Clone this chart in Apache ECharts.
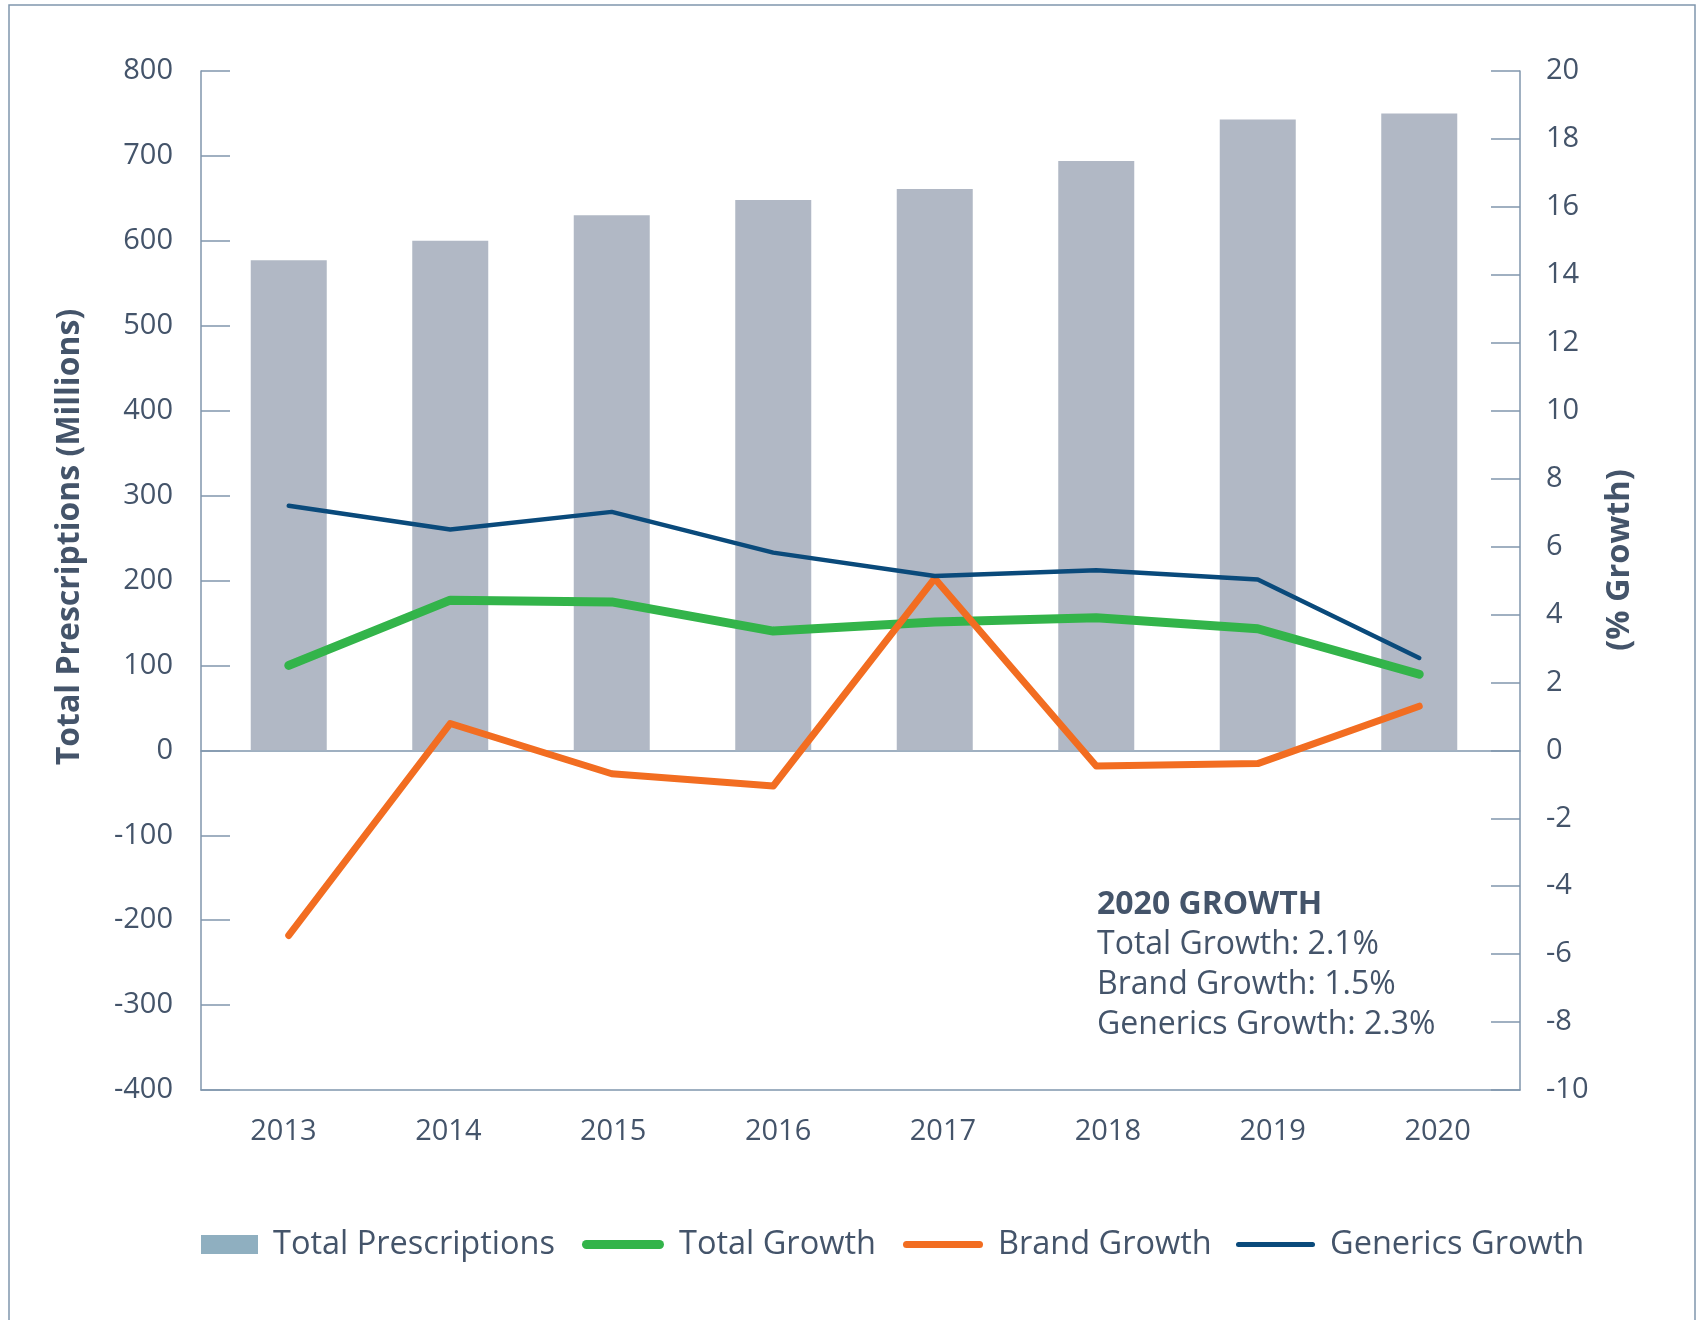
<!DOCTYPE html>
<html>
<head>
<meta charset="utf-8">
<script src="https://cdn.jsdelivr.net/npm/echarts@6/dist/echarts.min.js"></script>
<style>
  html, body { margin: 0; padding: 0; background: #fff; }
  #chart { width: 1701px; height: 1320px; }
</style>
</head>
<body>
<div id="chart"></div>
<script>
const years = ['2013', '2014', '2015', '2016', '2017', '2018', '2019', '2020'];
const totalRx = [577, 600, 630, 648, 661, 694, 743, 750];
const totalGrowth = [2.5, 4.42, 4.37, 3.51, 3.78, 3.9, 3.58, 2.24];
const brandGrowth = [-5.45, 0.79, -0.69, -1.05, 5.06, -0.46, -0.39, 1.3];
const genericsGrowth = [7.2, 6.5, 7.02, 5.82, 5.13, 5.3, 5.03, 2.72];
const noteLines = ['2020 GROWTH', 'Total Growth: 2.1%', 'Brand Growth: 1.5%', 'Generics Growth: 2.3%'];

const ink = '#44546a';
const axisCol = '#8096ad';
const font = 'Open Sans';

// capsule shaped legend icon
function capsule(w, h) {
  const r = h / 2;
  return 'path://M' + r + ',0H' + (w - r) + 'A' + r + ',' + r + ' 0 0 1 ' + (w - r) + ',' + h +
    'H' + r + 'A' + r + ',' + r + ' 0 0 1 ' + r + ',0Z';
}

function legendAt(left, name, w, h, icon, extra) {
  return {
    left: left, top: 1228, padding: 0, itemWidth: w, itemHeight: h,
    selectedMode: false,
    textStyle: { fontSize: 32.5, color: ink, fontFamily: font, padding: [0, 0, 0, 10] },
    data: [Object.assign({ name: name, icon: icon }, extra || {})]
  };
}

const hiddenX = function (grid) {
  return { gridIndex: grid, type: 'value', min: 0, max: 1, show: false };
};

// short tick marks drawn as split lines in thin grids next to each axis
const tickAxis = function (grid, min, max, step) {
  return { gridIndex: grid, type: 'value', min: min, max: max, interval: step,
    axisLine: { show: false }, axisTick: { show: false }, axisLabel: { show: false },
    splitLine: { show: true, lineStyle: { color: axisCol, width: 1.5 } } };
};

const chart = echarts.init(document.getElementById('chart'));

chart.setOption({
  animation: false,
  backgroundColor: '#fff',
  grid: [
    { left: 201, right: 181, top: 71, bottom: 230 },
    { left: 208, right: 201, top: 71, bottom: 230 },
    { left: 201, width: 29, top: 71, bottom: 230 },
    { left: 1491, width: 29, top: 71, bottom: 230 }
  ],
  xAxis: [
    { gridIndex: 0, type: 'category', data: years, position: 'bottom',
      axisLine: { onZero: false, lineStyle: { color: axisCol, width: 1.5 } },
      axisTick: { show: false },
      axisLabel: { fontSize: 29, color: ink, fontFamily: font, margin: 27 } },
    { gridIndex: 0, type: 'category', data: years,
      axisLine: { onZero: true, lineStyle: { color: axisCol, width: 1.5 } },
      axisTick: { show: false }, axisLabel: { show: false } },
    { gridIndex: 1, type: 'category', data: years, show: false },
    hiddenX(2),
    hiddenX(3)
  ],
  yAxis: [
    { gridIndex: 0, type: 'value', min: -400, max: 800, interval: 100,
      axisLine: { show: true, lineStyle: { color: axisCol, width: 1.5 } },
      axisTick: { show: false },
      axisLabel: { fontSize: 29, color: ink, fontFamily: font, margin: 28 },
      splitLine: { show: false } },
    { gridIndex: 0, type: 'value', min: -10, max: 20, interval: 2, position: 'right',
      axisLine: { show: true, lineStyle: { color: axisCol, width: 1.5 } },
      axisTick: { show: false },
      axisLabel: { fontSize: 29, color: ink, fontFamily: font, margin: 26 },
      splitLine: { show: false } },
    { gridIndex: 1, type: 'value', min: -400, max: 800, show: false },
    { gridIndex: 1, type: 'value', min: -10, max: 20, show: false, position: 'right' },
    tickAxis(2, -400, 800, 100),
    tickAxis(3, -10, 20, 2)
  ],
  legend: [
    legendAt(201, 'Total Prescriptions', 57, 19, 'rect', { itemStyle: { color: '#8fafc0' } }),
    legendAt(582, 'Total Growth', 82, 9, capsule(82, 9)),
    legendAt(903, 'Brand Growth', 80, 7, capsule(80, 7)),
    legendAt(1236, 'Generics Growth', 79, 5, capsule(79, 5))
  ],
  series: [
    { name: 'Total Prescriptions', type: 'bar', xAxisIndex: 2, yAxisIndex: 2,
      data: totalRx, barWidth: 76, itemStyle: { color: '#b1b8c5' }, z: 1 },
    { name: 'Total Growth', type: 'line', xAxisIndex: 2, yAxisIndex: 3, data: totalGrowth,
      symbol: 'none', itemStyle: { color: '#33b44a' },
      lineStyle: { color: '#33b44a', width: 9, cap: 'round', join: 'round' }, z: 3 },
    { name: 'Brand Growth', type: 'line', xAxisIndex: 2, yAxisIndex: 3, data: brandGrowth,
      symbol: 'none', itemStyle: { color: '#f26d21' },
      lineStyle: { color: '#f26d21', width: 7, cap: 'round', join: 'round' }, z: 4 },
    { name: 'Generics Growth', type: 'line', xAxisIndex: 2, yAxisIndex: 3, data: genericsGrowth,
      symbol: 'none', itemStyle: { color: '#0a4a7b' },
      lineStyle: { color: '#0a4a7b', width: 4.5, cap: 'round', join: 'round' }, z: 5 }
  ],
  graphic: [
    { type: 'rect', shape: { x: 9, y: 5, width: 1686, height: 1330 }, silent: true,
      style: { fill: 'none', stroke: axisCol, lineWidth: 1.5 } },
    { type: 'text', x: 70, y: 537, rotation: Math.PI / 2,
      style: { text: 'Total Prescriptions (Millions)', fontSize: 32, fontWeight: 'bold', fontFamily: font,
        fill: ink, align: 'center', verticalAlign: 'middle' } },
    { type: 'text', x: 1620, y: 560, rotation: Math.PI / 2,
      style: { text: '(% Growth)', fontSize: 32.5, fontWeight: 'bold', fontFamily: font,
        fill: ink, align: 'center', verticalAlign: 'middle' } }
  ].concat(noteLines.map(function (t, i) {
    return { type: 'text', x: 1097, y: 905 + i * 40,
      style: { text: t, fontSize: 32, fontWeight: i === 0 ? 'bold' : 'normal', fontFamily: font,
        fill: ink, align: 'left', verticalAlign: 'middle' } };
  }))
});
</script>
</body>
</html>
